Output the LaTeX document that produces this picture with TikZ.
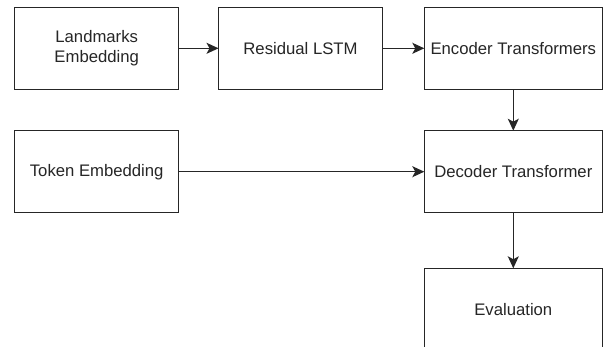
\documentclass[tikz,border=0pt]{standalone}
\usepackage{fontspec}
\setmainfont{Liberation Sans}
\usetikzlibrary{arrows.meta}
\begin{document}
\begin{tikzpicture}[x=1pt,y=1pt,
  box/.style={draw=black!85, line width=1.2pt, fill=white, minimum height=82pt, inner sep=0pt, outer sep=0pt, align=center, font=\fontsize{16.7}{19.5}\selectfont, text=black!85},
  narrow/.style={box, minimum width=164pt},
  wide/.style={box, minimum width=178pt},
  conn/.style={draw=black!85, line width=1.2pt, -{Stealth[length=12pt,width=11pt,inset=3pt]}}]
\clip (0,0) rectangle (614,-347);
\fill[white] (0,0) rectangle (614,-347);
\node[narrow] (lm) at (96.7,-48.3) {Landmarks\\Embedding};
\node[narrow] (lstm) at (300.5,-48.3) {Residual LSTM};
\node[wide] (enc) at (513.3,-48.3) {Encoder Transformers};
\node[narrow] (tok) at (96.7,-171.7) {Token Embedding};
\node[wide] (dec) at (513.3,-171.7) {Decoder Transformer};
\node[wide] (eval) at (513.3,-309.3) {Evaluation};
\draw[conn] (lm) -- (lstm);
\draw[conn] (lstm) -- (enc);
\draw[conn] (enc) -- (dec);
\draw[conn] (tok) -- (dec);
\draw[conn] (dec) -- (eval);
\end{tikzpicture}
\end{document}
